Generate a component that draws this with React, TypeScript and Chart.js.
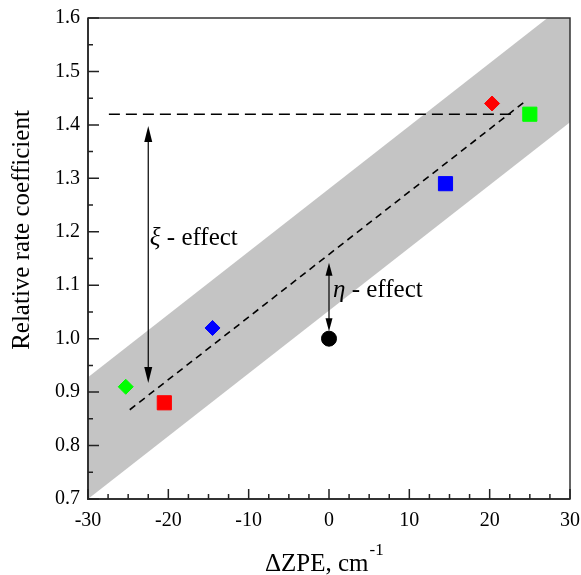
import React, { useEffect, useRef } from "react";
import { Chart, registerables } from "chart.js";

Chart.register(...registerables);

// ---- data ----
const xRange = [-30, 30];
const yRange = [0.7, 1.6];
const xMajorTicks = [-30, -20, -10, 0, 10, 20, 30];
const xMinorTicks = [-27.5, -25, -22.5, -17.5, -15, -12.5, -7.5, -5, -2.5, 2.5, 5, 7.5, 12.5, 15, 17.5, 22.5, 25, 27.5];
const yMajorTicks = [0.7, 0.8, 0.9, 1.0, 1.1, 1.2, 1.3, 1.4, 1.5, 1.6];
const yMinorTicks = [0.75, 0.85, 0.95, 1.05, 1.15, 1.25, 1.35, 1.45, 1.55];

const bandX = [-30, 30];
const bandLower = [0.70, 1.405];
const bandUpper = [0.928, 1.633];

const fitX = [-24.8, 24.5];
const fitY = [0.867, 1.445];

const levelX = [-27.4, 22.8];
const levelY = [1.42, 1.42];

const pointX = [-25.3, -20.5, -14.5, 0, 14.5, 20.3, 25.0];
const pointY = [0.91, 0.88, 1.02, 1.0, 1.29, 1.44, 1.42];
const pointColor = ["#00ff00", "#ff0000", "#0000ff", "#000000", "#0000ff", "#ff0000", "#00ff00"];
const pointShape = ["rectRot", "rect", "rectRot", "circle", "rect", "rectRot", "rect"];

// arrows: x, top tip, bottom tip
const xiArrow = [-22.5, 1.398, 0.917];
const etaArrow = [0, 1.142, 1.014];

const xiLabel = { x: -22.3, y: 1.175, sym: "ξ", text: " - effect" };
const etaLabel = { x: 0.5, y: 1.078, sym: "η", text: " - effect" };

const yTitle = "Relative rate coefficient";
const xTitleMain = "ΔZPE, cm";
const xTitleSup = "-1";

const FONT = '"Liberation Serif", serif';
Chart.defaults.font.family = FONT;

function pts(xs: number[], ys: number[]) {
  return xs.map((x, i) => ({ x, y: ys[i] }));
}

const overlay = {
  id: "overlay",
  afterDatasetsDraw(chart: any) {
    const { ctx, chartArea: a, scales } = chart;
    const xs = scales.x;
    const ys = scales.y;
    ctx.save();

    // arrows
    const drawArrow = (xv: number, yTop: number, yBot: number, hl: number, hw: number) => {
      const px = xs.getPixelForValue(xv);
      const p1 = ys.getPixelForValue(yTop);
      const p2 = ys.getPixelForValue(yBot);
      ctx.strokeStyle = "#000";
      ctx.fillStyle = "#000";
      ctx.lineWidth = 1.2;
      ctx.beginPath();
      ctx.moveTo(px, p1 + hl - 2);
      ctx.lineTo(px, p2 - hl + 2);
      ctx.stroke();
      ctx.beginPath();
      ctx.moveTo(px, p1);
      ctx.lineTo(px - hw / 2, p1 + hl);
      ctx.lineTo(px + hw / 2, p1 + hl);
      ctx.closePath();
      ctx.fill();
      ctx.beginPath();
      ctx.moveTo(px, p2);
      ctx.lineTo(px - hw / 2, p2 - hl);
      ctx.lineTo(px + hw / 2, p2 - hl);
      ctx.closePath();
      ctx.fill();
    };
    drawArrow(xiArrow[0], xiArrow[1], xiArrow[2], 16, 8);
    drawArrow(etaArrow[0], etaArrow[1], etaArrow[2], 13, 7);

    // labels
    const drawLabel = (l: any) => {
      const px = xs.getPixelForValue(l.x);
      const py = ys.getPixelForValue(l.y);
      ctx.fillStyle = "#000";
      ctx.textBaseline = "alphabetic";
      ctx.textAlign = "left";
      ctx.font = `italic 25px ${FONT}`;
      ctx.fillText(l.sym, px, py);
      const w = ctx.measureText(l.sym).width;
      ctx.font = `25px ${FONT}`;
      ctx.fillText(l.text, px + w, py);
    };
    drawLabel(xiLabel);
    drawLabel(etaLabel);

    // frame
    ctx.strokeStyle = "#333";
    ctx.lineWidth = 1.5;
    ctx.strokeRect(a.left, a.top, a.right - a.left, a.bottom - a.top);
    ctx.lineWidth = 2;
    ctx.beginPath();
    ctx.moveTo(a.left, a.top);
    ctx.lineTo(a.left, a.bottom);
    ctx.lineTo(a.right, a.bottom);
    ctx.stroke();

    // inward ticks
    ctx.lineWidth = 1.5;
    ctx.strokeStyle = "#222";
    ctx.beginPath();
    for (const v of xMajorTicks) {
      const p = xs.getPixelForValue(v);
      ctx.moveTo(p, a.bottom);
      ctx.lineTo(p, a.bottom - 10);
    }
    for (const v of xMinorTicks) {
      const p = xs.getPixelForValue(v);
      ctx.moveTo(p, a.bottom);
      ctx.lineTo(p, a.bottom - 5);
    }
    for (const v of yMajorTicks) {
      const p = ys.getPixelForValue(v);
      ctx.moveTo(a.left, p);
      ctx.lineTo(a.left + 11, p);
    }
    for (const v of yMinorTicks) {
      const p = ys.getPixelForValue(v);
      ctx.moveTo(a.left, p);
      ctx.lineTo(a.left + 5, p);
    }
    ctx.stroke();

    // axis titles
    ctx.fillStyle = "#000";
    ctx.font = `25px ${FONT}`;
    ctx.textAlign = "center";
    ctx.textBaseline = "middle";
    ctx.save();
    ctx.translate(22, 230);
    ctx.rotate(-Math.PI / 2);
    ctx.fillText(yTitle, 0, 0);
    ctx.restore();

    ctx.textAlign = "left";
    ctx.textBaseline = "alphabetic";
    ctx.font = `25px ${FONT}`;
    ctx.fillText(xTitleMain, 265, 571);
    const mw = ctx.measureText(xTitleMain).width;
    ctx.font = `17px ${FONT}`;
    ctx.fillText(xTitleSup, 265 + mw + 1, 555);

    ctx.restore();
  },
};

export default function App() {
  const ref = useRef<HTMLCanvasElement>(null);
  useEffect(() => {
    if (!ref.current) return;
    const chart = new Chart(ref.current, {
      type: "scatter",
      data: {
        datasets: [
          {
            type: "scatter",
            label: "points",
            data: pts(pointX, pointY),
            backgroundColor: pointColor,
            borderColor: pointColor,
            borderWidth: 1,
            pointStyle: pointShape as any,
            pointRadius: pointShape.map((s) => (s === "rect" ? 10 : 7.5)),
            order: 0,
          } as any,
          {
            type: "line",
            label: "fit",
            data: pts(fitX, fitY),
            borderColor: "#000",
            borderWidth: 1.6,
            borderDash: [7, 5],
            pointRadius: 0,
            fill: false,
            order: 1,
          },
          {
            type: "line",
            label: "level",
            data: pts(levelX, levelY),
            borderColor: "#000",
            borderWidth: 1.6,
            borderDash: [11, 6],
            pointRadius: 0,
            fill: false,
            order: 2,
          },
          {
            type: "line",
            label: "bandUpper",
            data: pts(bandX, bandUpper),
            borderWidth: 0,
            borderColor: "rgba(0,0,0,0)",
            pointRadius: 0,
            fill: false,
            order: 3,
          },
          {
            type: "line",
            label: "bandLower",
            data: pts(bandX, bandLower),
            borderWidth: 0,
            borderColor: "rgba(0,0,0,0)",
            backgroundColor: "#c4c4c4",
            pointRadius: 0,
            fill: 3,
            order: 4,
          },
        ],
      },
      options: {
        animation: false,
        responsive: true,
        maintainAspectRatio: false,
        layout: { padding: { left: 0, top: 18, right: 11, bottom: 0 } },
        plugins: {
          legend: { display: false },
          tooltip: { enabled: false },
        },
        scales: {
          x: {
            type: "linear",
            min: xRange[0],
            max: xRange[1],
            afterFit: (s: any) => {
              s.height = 76;
              s.paddingLeft = 0;
              s.paddingRight = 0;
            },
            afterBuildTicks: (s: any) => {
              s.ticks = xMajorTicks.map((v) => ({ value: v }));
            },
            ticks: {
              padding: 10,
              color: "#000",
              font: { family: FONT, size: 20 },
              callback: (v: any) => String(v),
            },
            grid: { display: false, drawTicks: false },
            border: { display: false },
            title: { display: false },
          },
          y: {
            type: "linear",
            min: yRange[0],
            max: yRange[1],
            afterFit: (s: any) => {
              s.width = 88;
              s.paddingTop = 0;
              s.paddingBottom = 0;
            },
            afterBuildTicks: (s: any) => {
              s.ticks = yMajorTicks.map((v) => ({ value: v }));
            },
            ticks: {
              padding: 8,
              color: "#000",
              font: { family: FONT, size: 20 },
              callback: (v: any) => Number(v).toFixed(1),
            },
            grid: { display: false, drawTicks: false },
            border: { display: false },
            title: { display: false },
          },
        },
      },
      plugins: [overlay],
    });
    return () => chart.destroy();
  }, []);
  return (
    <div style={{ position: "fixed", left: 0, top: 0, width: 581, height: 575, background: "#fff" }}>
      <canvas ref={ref} />
    </div>
  );
}
